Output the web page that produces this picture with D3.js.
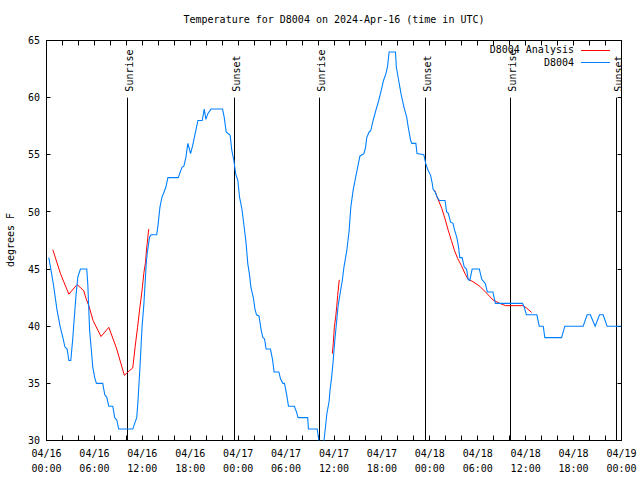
<!DOCTYPE html>
<html>
<head>
<meta charset="utf-8">
<script src="https://cdn.jsdelivr.net/npm/d3@7"></script>
<style>
  html, body { margin: 0; padding: 0; background: #fff; }
  svg { display: block; }
  text { font-family: "DejaVu Sans Mono", "Liberation Mono", monospace; font-size: 10px; fill: #000; }
</style>
</head>
<body>
<div id="chart"></div>
<script>
// ---------- data (hours since 2024-04-16 00:00 UTC, degrees F) ----------
const titleText = "Temperature for D8004 on 2024-Apr-16 (time in UTC)";
const yLabelText = "degrees F";
const yTickValues = [30, 35, 40, 45, 50, 55, 60, 65];
const seriesNames = ["D8004 Analysis", "D8004"];

const blueHours = [0.29,0.54,0.9,1.3,1.7,2.05,2.3,2.58,2.8,3.04,3.3,3.4,3.67,3.92,4.25,5.04,5.17,5.4,5.58,5.8,6.04,6.25,7.04,7.3,7.54,7.8,8.3,8.54,8.8,9.04,10.8,11.04,11.3,11.46,11.7,11.96,12.2,12.5,12.6,12.9,13.1,13.8,13.96,14.2,14.46,14.7,14.96,15.2,16.5,16.75,16.96,17.2,17.46,17.7,17.9,18.04,18.3,18.6,18.96,19.5,19.75,19.96,20.2,20.6,22.04,22.25,22.5,23,23.2,23.46,23.7,23.96,24.17,24.46,24.75,25,25.2,25.4,25.6,25.9,26.1,26.3,26.6,26.9,27.1,27.3,27.5,28.04,28.3,28.5,29.1,29.3,29.6,29.8,30.1,30.3,31.04,31.3,31.5,32.7,32.8,33.9,34.1,34.4,34.75,35.1,35.4,35.5,35.7,35.9,36.1,36.3,36.5,36.75,37.04,37.25,37.6,37.9,38.1,38.4,38.7,38.96,39.25,39.75,39.96,40.1,40.4,40.6,40.9,41.25,41.6,41.9,42.2,42.5,42.7,42.9,43.7,43.8,44.1,44.4,44.75,45.1,45.3,45.6,45.75,46.25,46.4,47.25,47.5,47.8,48.1,48.3,48.4,48.7,48.9,49.2,49.9,50.1,50.3,50.6,50.9,51.1,51.4,51.6,51.75,52.04,52.3,52.6,52.8,53,53.3,54.2,54.5,54.75,54.96,55.2,55.9,56.2,59.6,59.8,60.1,61.4,61.7,62.2,62.4,64.5,64.9,67.2,67.7,68.1,68.7,69.25,69.7,70.2,72];
const blueTemps = [46,45,43.5,41.5,40,39,38.2,38,37,37,39,40,42.5,44.3,45,45,43.7,39.6,38.2,36.4,35.5,35,35,34,33.8,33,33,32,31.8,31,31,31.5,32,33.5,36.4,39.9,42,45.6,46.3,47.8,48,48,48.8,50.4,51.3,51.7,52.2,53,53,53.5,53.9,54,54.8,56,55.5,55.1,55.8,56.8,58,58,59,58.1,58.6,59,59,58.3,57,56.7,55.4,54.5,53.3,52.75,51.3,50.3,48.7,47.2,45.5,44.6,43.4,42.5,41.5,41,40.9,39.6,39,38.9,38,38,37.1,36,36,35.4,35,35,33.9,33,33,32.5,32,32,31,31,30,29,30,32.3,33.5,34.4,35.5,37,38.75,40.2,41.7,42.8,44,45.2,46.6,48.4,50.4,51.9,53,53.9,54.9,55.1,55.7,56.5,57,57.1,58,58.9,59.75,60.6,61.5,62.1,62.7,64,64,62.7,61.5,60.3,59.2,58.3,57.4,56.25,56,56,55.1,55,54.2,53.6,53.2,52.5,52,51.7,51.3,51,51,50,49.9,49.1,49,48.4,47.7,46.9,46,46,45.2,45,44.1,44,45,45,44.1,43.9,43.7,43,43,42,42,41.7,41,41,40,40,39,39,40,40,41,41,40,41,41,40,40];

// null entries separate the three analysis segments
const redHours = [0.79,1.75,2.8,3.83,4.67,4.96,5.3,5.83,6.83,7.8,8.75,9.75,10.2,10.8,11.1,11.4,11.7,11.96,12.2,12.4,12.5,12.6,12.8,null,35.79,35.91,36.04,36.21,36.34,36.46,36.59,36.66,null,48.6,49.05,49.5,49.9,50.3,50.7,51.1,51.5,51.96,52.4,52.8,53.4,54.25,55.1,55.9,56.75,57.5,59.7,60.1,60.75];
const redTemps = [46.7,44.6,42.8,43.65,43.1,42.4,41.8,40.5,39.1,39.9,38.1,35.7,36,36.35,38.2,39.9,41.7,43.1,44.7,45.6,46.5,47.2,48.5,null,37.6,38.5,39.9,40.8,41.7,42.7,43.6,44.06,null,51.9,51.06,50.3,49.4,48.4,47.5,46.6,45.9,45.3,44.6,44.1,43.9,43.5,42.9,42.3,42,41.8,41.8,41.6,41.2];

const sunriseHours = [10.1, 34.15, 58.05];
const sunsetHours = [23.55, 47.4, 71.4];

// ---------- drawing ----------
const W = 640, H = 480;
const t0 = Date.UTC(2024, 3, 16, 0, 0);
const toDate = h => new Date(t0 + h * 3600 * 1000);

const pLeft = 46.5, pRight = 621.5, pTop = 40.5, pBottom = 440.5;

const svg = d3.select("#chart").append("svg").attr("width", W).attr("height", H);

const x = d3.scaleUtc().domain([toDate(0), toDate(72)]).range([pLeft, pRight]);
const y = d3.scaleLinear().domain([30, 65]).range([pBottom, pTop]);

svg.append("defs").append("clipPath").attr("id", "plot")
  .append("rect").attr("x", pLeft).attr("y", pTop).attr("width", pRight - pLeft).attr("height", pBottom - pTop);

// title
svg.append("text").attr("x", (pLeft + pRight) / 2).attr("y", 23)
  .attr("text-anchor", "middle").text(titleText);

// y label
svg.append("text").attr("transform", "translate(14,240) rotate(-90)")
  .attr("text-anchor", "middle").text(yLabelText);

// frame
svg.append("rect").attr("x", pLeft).attr("y", pTop).attr("width", pRight - pLeft).attr("height", pBottom - pTop)
  .attr("fill", "none").attr("stroke", "#000").attr("stroke-width", 1);

// x ticks (minor every 2h top & bottom) and labels every 6h
const minorTicks = x.ticks(d3.utcHour.every(2));
const tickLen = 5;
const gT = svg.append("g").attr("stroke", "#000").attr("stroke-width", 1);
minorTicks.forEach(d => {
  const px = Math.round(x(d) - 0.5) + 0.5;
  gT.append("line").attr("x1", px).attr("x2", px).attr("y1", pBottom).attr("y2", pBottom - tickLen);
  gT.append("line").attr("x1", px).attr("x2", px).attr("y1", pTop).attr("y2", pTop + tickLen);
});
yTickValues.forEach(v => {
  const py = Math.round(y(v) - 0.5) + 0.5;
  gT.append("line").attr("x1", pLeft).attr("x2", pLeft + 4).attr("y1", py).attr("y2", py);
  gT.append("line").attr("x1", pRight).attr("x2", pRight - 4).attr("y1", py).attr("y2", py);
});

const fmtDate = d3.utcFormat("%m/%d"), fmtTime = d3.utcFormat("%H:%M");
x.ticks(d3.utcHour.every(6)).forEach(d => {
  const t = svg.append("text").attr("text-anchor", "middle");
  t.append("tspan").attr("x", x(d)).attr("y", 457).text(fmtDate(d));
  t.append("tspan").attr("x", x(d)).attr("y", 472).text(fmtTime(d));
});

yTickValues.forEach(v => {
  svg.append("text").attr("x", 40).attr("y", y(v) + 3.6).attr("text-anchor", "end").text(v);
});

// sun events
const events = sunriseHours.map(h => ({h, label: "Sunrise"}))
  .concat(sunsetHours.map(h => ({h, label: "Sunset"})));
const gE = svg.append("g").attr("clip-path", "url(#plot)");
events.forEach(e => {
  const px = Math.round(x(toDate(e.h)) - 0.5) + 0.5;
  gE.append("line").attr("x1", px).attr("x2", px).attr("y1", y(60)).attr("y2", pBottom)
    .attr("stroke", "#000").attr("stroke-width", 1);
  gE.append("text").attr("transform", `translate(${px + 5},${y(60) - 6}) rotate(-90)`)
    .attr("text-anchor", "start").text(e.label);
});

// series
const redData = redHours.map((h, i) => ({h, v: redTemps[i]}));
const blueData = blueHours.map((h, i) => ({h, v: blueTemps[i]}));
const line = d3.line().defined(d => d.h !== null && d.v !== null)
  .x(d => x(toDate(d.h))).y(d => y(d.v));
const gS = svg.append("g").attr("clip-path", "url(#plot)");
gS.append("path").datum(redData).attr("d", line).attr("fill", "none")
  .attr("stroke", "#ff0000").attr("stroke-width", 1);
gS.append("path").datum(blueData).attr("d", line).attr("fill", "none")
  .attr("stroke", "#0080ff").attr("stroke-width", 1.1);

// legend
const legColors = ["#ff0000", "#0080ff"];
seriesNames.forEach((n, i) => {
  const ly = 49.5 + i * 12.5;
  svg.append("text").attr("x", 574).attr("y", ly + 3.6).attr("text-anchor", "end").text(n);
  const lyc = Math.round(ly) + 0.5;
  svg.append("line").attr("x1", 581).attr("x2", 610).attr("y1", lyc).attr("y2", lyc)
    .attr("stroke", legColors[i]).attr("stroke-width", 1);
});
</script>
</body>
</html>
